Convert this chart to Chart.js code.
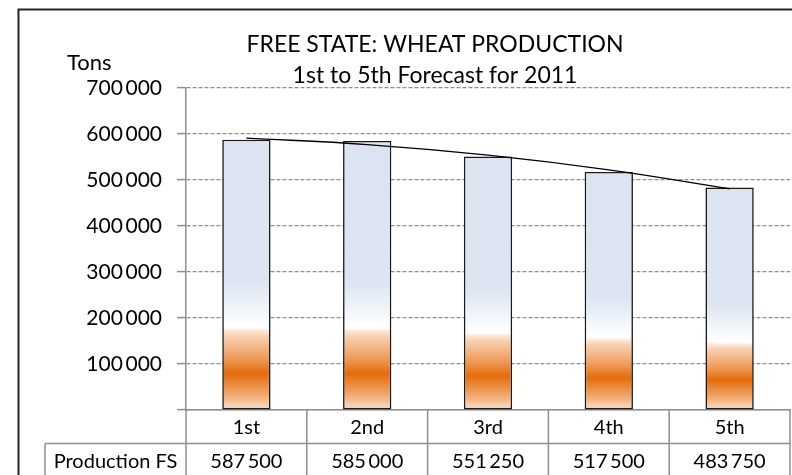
<!DOCTYPE html>
<html>
<head>
<meta charset="utf-8">
<script src="https://cdn.jsdelivr.net/npm/chart.js@4/dist/chart.umd.min.js"></script>
<style>
  html, body { margin: 0; padding: 0; background: #ffffff; }
  #wrap { width: 792px; height: 475px; position: relative; }
</style>
</head>
<body>
<div id="wrap"><canvas id="c" width="792" height="475"></canvas></div>
<script>
// ---- data ----
const categories = ['1st', '2nd', '3rd', '4th', '5th'];
const seriesName = 'Production FS';
const production = [587500, 585000, 551250, 517500, 483750];
// polynomial trendline
const trendline = [591000, 577000, 554000, 522000, 481000];
const titleLines = ['FREE STATE: WHEAT PRODUCTION', '1st to 5th Forecast for 2011'];
const yAxisLabel = 'Tons';
const yTicks = [0, 100000, 200000, 300000, 400000, 500000, 600000, 700000];

const FONT = 'Lato';
const GRID = '#8e8e8e';

function fmt(v) {
  return String(v).replace(/\B(?=(\d{3})+(?!\d))/g, '\u2009');
}

function barFill(c) {
  const chart = c.chart;
  const y = chart.scales && chart.scales.y;
  if (!y || c.type !== 'data' || !c.parsed) return '#dce4f1';
  const top = y.getPixelForValue(c.parsed.y);
  const base = y.getPixelForValue(0);
  if (!isFinite(top) || !isFinite(base) || top === base) return '#dce4f1';
  const g = chart.ctx.createLinearGradient(0, base, 0, top);
  g.addColorStop(0.00, '#fbe2cf');
  g.addColorStop(0.05, '#f2ae78');
  g.addColorStop(0.135, '#e46c0a');
  g.addColorStop(0.19, '#ee9a58');
  g.addColorStop(0.275, '#f8d2b3');
  g.addColorStop(0.295, '#fde9da');
  g.addColorStop(0.305, '#ffffff');
  g.addColorStop(0.34, '#f8fafd');
  g.addColorStop(0.47, '#dde5f2');
  g.addColorStop(1.00, '#dce4f1');
  return g;
}

const tablePlugin = {
  id: 'tablePlugin',
  afterDraw(chart) {
    const ctx = chart.ctx;
    const x = chart.scales.x;
    const area = chart.chartArea;
    const n = categories.length;
    const w = (area.right - area.left) / n;
    const rowTop = area.bottom;
    const rowMid = 443.5;
    const rowBot = 480;
    const headLeft = 45;
    ctx.save();
    ctx.strokeStyle = GRID;
    ctx.lineWidth = 1.5;
    ctx.beginPath();
    for (let i = 0; i <= n; i++) {
      const xx = area.left + i * w;
      ctx.moveTo(xx, rowTop);
      ctx.lineTo(xx, rowBot);
    }
    ctx.moveTo(headLeft, rowMid);
    ctx.lineTo(area.right, rowMid);
    ctx.moveTo(headLeft, rowMid);
    ctx.lineTo(headLeft, rowBot);
    ctx.stroke();

    ctx.fillStyle = '#000';
    ctx.font = '20px ' + FONT;
    ctx.textAlign = 'center';
    ctx.textBaseline = 'middle';
    ctx.fillText(seriesName, (headLeft + area.left) / 2, 462);
    production.forEach((v, i) => {
      ctx.fillText(fmt(v), x.getPixelForValue(i), 462);
    });

    ctx.textAlign = 'left';
    ctx.font = '22px ' + FONT;
    ctx.fillText(yAxisLabel, 67, 63);

    ctx.strokeStyle = '#262626';
    ctx.lineWidth = 2;
    ctx.beginPath();
    ctx.moveTo(18.5, 480);
    ctx.lineTo(18.5, 9.5);
    ctx.lineTo(800, 9.5);
    ctx.stroke();
    ctx.restore();
  }
};

new Chart(document.getElementById('c'), {
  data: {
    labels: categories,
    datasets: [
      {
        type: 'line',
        label: 'Trend',
        data: trendline,
        borderColor: '#000000',
        borderWidth: 1.4,
        pointRadius: 0,
        tension: 0.4,
        fill: false,
        order: 0
      },
      {
        type: 'bar',
        label: seriesName,
        data: production,
        backgroundColor: barFill,
        borderColor: '#1a1a1a',
        borderWidth: 1.6,
        borderSkipped: false,
        barPercentage: 0.4,
        categoryPercentage: 1.0,
        order: 1
      }
    ]
  },
  options: {
    responsive: false,
    animation: false,
    devicePixelRatio: 1,
    layout: { padding: { top: 0, left: 80, right: 2, bottom: 0 } },
    plugins: {
      legend: { display: false },
      tooltip: { enabled: false },
      title: {
        display: true,
        text: titleLines,
        color: '#000',
        font: { family: FONT, size: 23, weight: 'normal', lineHeight: 1.348 },
        padding: { top: 29.5, bottom: -3.5 }
      }
    },
    scales: {
      x: {
        offset: true,
        grid: { display: false, drawTicks: false },
        border: { display: true, color: GRID, width: 1.5 },
        ticks: { color: '#000', font: { family: FONT, size: 20 }, padding: 6 },
        afterFit(scale) { scale.height = 65; }
      },
      y: {
        min: 0,
        max: 700000,
        afterBuildTicks(scale) { scale.ticks = yTicks.map(v => ({ value: v })); },
        ticks: {
          color: '#000',
          font: { family: FONT, size: 21 },
          padding: 15,
          callback: (v) => (v === 0 ? '' : fmt(v))
        },
        grid: { color: GRID, lineWidth: 1.2, tickLength: 9, tickColor: GRID, tickWidth: 1.5 },
        border: { display: true, color: GRID, width: 1.5, dash: [4, 2] },
        afterFit(scale) { scale.width = 106; }
      }
    }
  },
  plugins: [tablePlugin]
});
</script>
</body>
</html>
